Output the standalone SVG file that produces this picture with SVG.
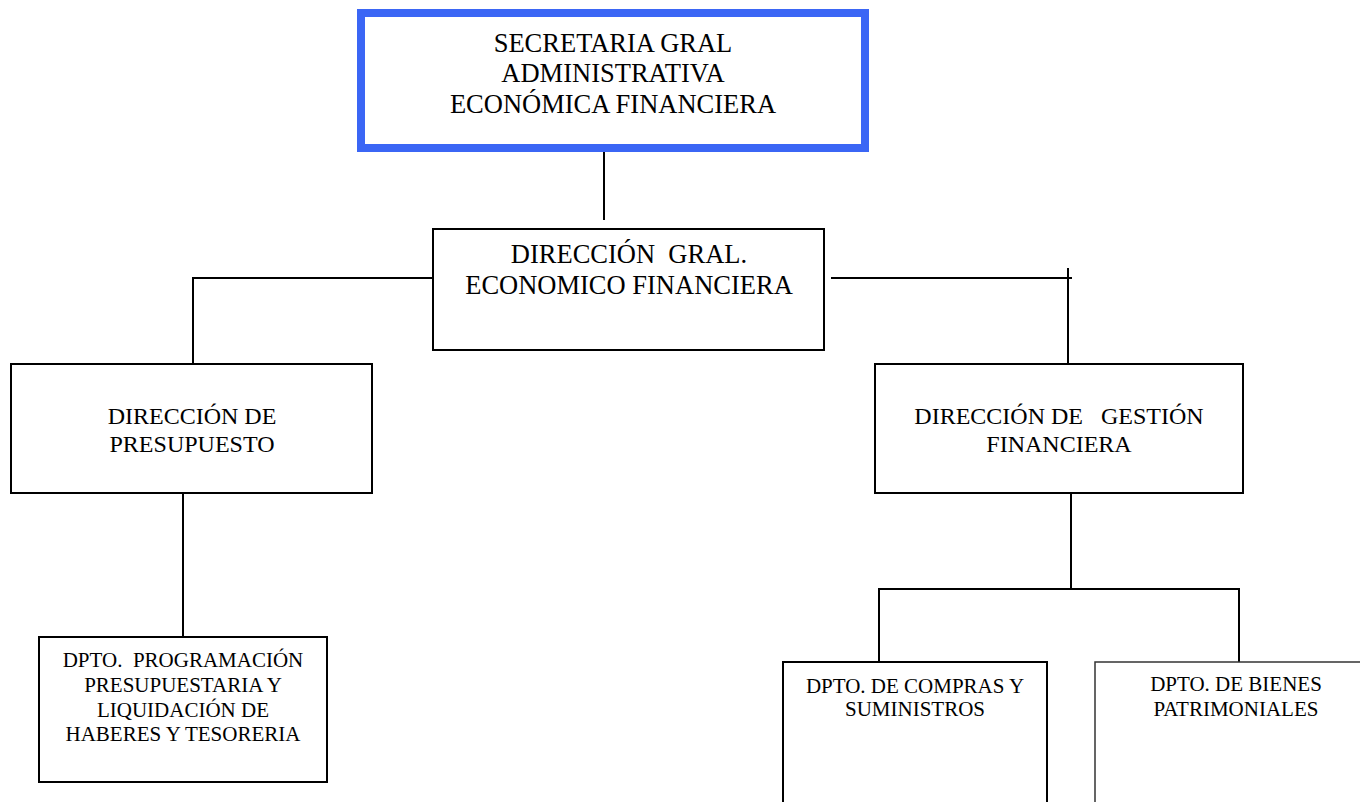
<svg xmlns="http://www.w3.org/2000/svg" width="1360" height="802" viewBox="0 0 1360 802">
  <style>
    .box { fill: #ffffff; stroke: #000000; stroke-width: 2; }
    .top { fill: #ffffff; stroke: #3b66f5; stroke-width: 8; }
    .thin { stroke: #333333; stroke-width: 1.5; }
    .lbl { fill: #000000; text-anchor: middle; }
    .big { font-size: 26.5px; }
    .mid { font-size: 24px; }
    .sm { font-size: 21px; }
    .wire { stroke: #000000; stroke-width: 2; fill: none; }
  </style>
  <rect width="1360" height="802" fill="#ffffff"/>

  <!-- hierarchy lines -->
  <g id="connectors">
    <line class="wire" x1="604" y1="152" x2="604" y2="220"/>
    <polyline class="wire" points="433,278 193,278 193,374"/>
    <line class="wire" x1="831" y1="278" x2="1072" y2="278"/>
    <line class="wire" x1="1068" y1="268" x2="1068" y2="364"/>
    <line class="wire" x1="183" y1="493" x2="183" y2="637"/>
    <line class="wire" x1="1071" y1="493" x2="1071" y2="589"/>
    <polyline class="wire" points="879,662 879,589 1239,589 1239,662"/>
  </g>

  <g font-family="'Liberation Serif', 'Times New Roman', serif">
    <g id="secretaria-gral">
      <rect class="top" x="361" y="13" width="504" height="135"/>
      <text class="lbl big" x="613" y="52">SECRETARIA GRAL</text>
      <text class="lbl big" x="613" y="82">ADMINISTRATIVA</text>
      <text class="lbl big" x="613" y="113">ECONÓMICA FINANCIERA</text>
    </g>

    <g id="direccion-gral">
      <rect class="box" x="433" y="229" width="391" height="121"/>
      <text class="lbl big" x="629" y="263" xml:space="preserve">DIRECCIÓN  GRAL.</text>
      <text class="lbl big" x="629" y="294">ECONOMICO FINANCIERA</text>
    </g>

    <g id="direccion-presupuesto">
      <rect class="box" x="11" y="364" width="361" height="129"/>
      <text class="lbl mid" x="192" y="424">DIRECCIÓN DE</text>
      <text class="lbl mid" x="192" y="452">PRESUPUESTO</text>
    </g>

    <g id="direccion-gestion">
      <rect class="box" x="875" y="364" width="368" height="129"/>
      <text class="lbl mid" x="1059" y="424" xml:space="preserve">DIRECCIÓN DE   GESTIÓN</text>
      <text class="lbl mid" x="1059" y="452">FINANCIERA</text>
    </g>

    <g id="dpto-programacion">
      <rect class="box" x="39" y="637" width="288" height="145"/>
      <text class="lbl sm" x="183" y="667" xml:space="preserve">DPTO.  PROGRAMACIÓN</text>
      <text class="lbl sm" x="183" y="692">PRESUPUESTARIA Y</text>
      <text class="lbl sm" x="183" y="717">LIQUIDACIÓN DE</text>
      <text class="lbl sm" x="183" y="741">HABERES Y TESORERIA</text>
    </g>

    <g id="dpto-compras">
      <rect class="box" x="783" y="662" width="264" height="160"/>
      <text class="lbl sm" x="915" y="693">DPTO. DE COMPRAS Y</text>
      <text class="lbl sm" x="915" y="716">SUMINISTROS</text>
    </g>

    <g id="dpto-bienes">
      <rect class="box thin" x="1095" y="662" width="282" height="160"/>
      <text class="lbl sm" x="1236" y="691">DPTO. DE BIENES</text>
      <text class="lbl sm" x="1236" y="716">PATRIMONIALES</text>
    </g>
  </g>
</svg>
